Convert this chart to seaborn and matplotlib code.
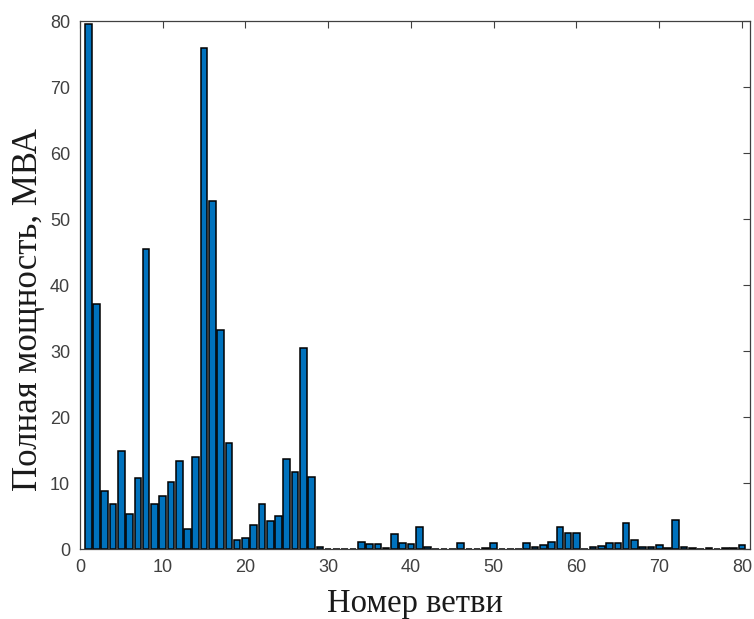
import numpy as np
import pandas as pd
import seaborn as sns
import matplotlib.pyplot as plt

# branch numbers and apparent power (MVA)
branches = list(range(1, 81))
power = [79.6, 37.2, 8.8, 6.8, 14.9, 5.3, 10.7, 45.4, 6.8, 8.1,
         10.2, 13.3, 3.0, 14.0, 75.9, 52.8, 33.2, 16.1, 1.3, 1.6,
         3.7, 6.9, 4.3, 5.0, 13.7, 11.6, 30.4, 10.9, 0.3, 0.0,
         0.0, 0.0, 0.0, 1.1, 0.7, 0.7, 0.2, 2.3, 0.9, 0.7,
         3.3, 0.25, 0.0, 0.0, 0.0, 0.85, 0.0, 0.0, 0.2, 0.85,
         0.0, 0.0, 0.0, 0.86, 0.35, 0.65, 1.1, 3.3, 2.5, 2.5,
         0.0, 0.25, 0.45, 0.86, 0.86, 3.9, 1.35, 0.35, 0.35, 0.65,
         0.2, 4.35, 0.35, 0.15, 0.0, 0.15, 0.0, 0.15, 0.15, 0.65]

df = pd.DataFrame({'branch': branches, 'power': power})

sns.set_style('white')
fig = plt.figure(figsize=(7.54, 6.19), dpi=100)
ax = fig.add_axes([0.106, 0.113, 0.889, 0.853])

sns.barplot(data=df, x='branch', y='power', native_scale=True, width=0.8,
            color='#0072BD', saturation=1, edgecolor='black', linewidth=1.1, ax=ax)

ax.set_xlim(0, 81)
ax.set_ylim(0, 80)
ax.set_xticks(range(0, 81, 10))
ax.set_yticks(range(0, 81, 10))
ax.tick_params(direction='in', top=True, right=True, length=5, width=0.8,
               color='#404040', labelsize=13, labelcolor='#404040', pad=7)
for lbl in ax.get_xticklabels() + ax.get_yticklabels():
    lbl.set_family('Liberation Sans')
for sp in ax.spines.values():
    sp.set_color('#404040')
    sp.set_linewidth(0.9)

ax.set_xlabel('Номер ветви', family='Liberation Serif', fontsize=23.5, color='#1a1a1a', labelpad=9)
ax.set_ylabel('Полная мощность, МВА', family='Liberation Serif', fontsize=25, color='#1a1a1a')
ax.yaxis.set_label_coords(-0.052, 0.453)

fig.savefig('out.png', dpi=100)
